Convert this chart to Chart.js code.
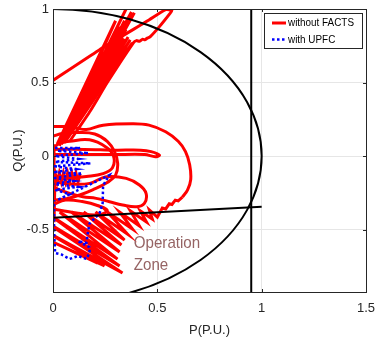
<!DOCTYPE html>
<html>
<head>
<meta charset="utf-8">
<script src="https://cdn.jsdelivr.net/npm/chart.js@4.4.1/dist/chart.umd.min.js"></script>
<style>
  html, body { margin: 0; padding: 0; background: #fff; }
  #wrap { width: 375px; height: 345px; }
</style>
</head>
<body>
<div id="wrap"><canvas id="pqChart" width="375" height="345"></canvas></div>
<script>
// ---- data (P, Q in p.u.) ----
const xTicks = [0, 0.5, 1, 1.5];
const yTicks = [-0.5, 0, 0.5, 1];

// fan of swings going up-right (without FACTS)
const fanBase = [[0.02,0.08],[0.03,0.07],[0.035,0.09],[0.04,0.08],[0.045,0.09],[0.05,0.09],[0.045,0.10],[0.05,0.10],[0.055,0.09],[0.06,0.10],[0.06,0.10],[0.04,0.08],[0.05,0.09]];
const fanTip  = [[0.30,0.92],[0.35,1.0],[0.376,0.98],[0.39,0.975],[0.343,0.92],[0.32,0.88],[0.35,0.86],[0.33,0.82],[0.36,0.81],[0.37,0.79],[0.38,0.77],[0.31,0.85],[0.34,0.80]];

// long thin loop from the Q axis to the top
const longLoop = [[-0.01,0.505],[0.22,0.72],[0.46,0.925],[0.54,0.995],[0.57,0.99],[0.558,0.965],[0.51,0.88],[0.465,0.81],
  [0.45,0.80],[0.44,0.79],[0.43,0.795],[0.415,0.78],[0.40,0.785],[0.385,0.77],[0.26,0.5],[0.18,0.31],[0.08,0.1]];

// big loop reaching P = 0.66
const bigLoop = [[-0.01,0.2],[0.05,0.2],[0.11,0.19],[0.16,0.18],[0.24,0.21],[0.38,0.22],[0.46,0.21],[0.54,0.165],
  [0.60,0.10],[0.635,0.03],[0.655,-0.06],[0.66,-0.16],[0.645,-0.23],[0.62,-0.28]];

// thin loop along Q = 0
const thinLoop = [[-0.01,0.045],[0.15,0.045],[0.30,0.04],[0.42,0.04],[0.47,0.03],[0.51,0.005],[0.49,-0.005],
  [0.44,0.01],[0.30,0.01],[0.10,0.01],[-0.01,0.01]];

// loops between Q = 0.15 and -0.35
const loopLeft = [[-0.01,0.13],[0.05,0.155],[0.12,0.16],[0.20,0.15],[0.26,0.10],[0.295,0.03],[0.31,-0.05],[0.30,-0.13],
  [0.26,-0.18],[0.19,-0.23],[0.128,-0.265],[0.064,-0.29],[0.0,-0.30]];
const loopSmall = [[-0.01,0.04],[0.03,0.085],[0.08,0.10],[0.175,0.11],[0.255,0.06],[0.29,0.0],[0.285,-0.08],[0.24,-0.12],
  [0.16,-0.14],[0.08,-0.15],[0.0,-0.16]];
const loopRight = [[0.0,-0.17],[0.08,-0.19],[0.176,-0.186],[0.255,-0.141],[0.351,-0.152],[0.414,-0.197],[0.446,-0.254],
  [0.438,-0.322],[0.40,-0.345],[0.334,-0.333],[0.271,-0.311],[0.207,-0.288],[0.143,-0.277],[0.08,-0.254],[0.032,-0.231],[0.0,-0.21]];
const loopLow = [[0.0,-0.33],[0.06,-0.30],[0.14,-0.31],[0.22,-0.34],[0.26,-0.37],[0.22,-0.40],[0.12,-0.39],[0.04,-0.37],[0.0,-0.36]];

// saw-tooth / stripes under the boundary line
const stripeTop = [[0.62,-0.28],[0.586,-0.30],[0.557,-0.325],[0.524,-0.354],[0.462,-0.367],[0.419,-0.374],[0.371,-0.374],
  [0.319,-0.381],[0.261,-0.381],[0.204,-0.381],[0.147,-0.381],[0.089,-0.381],[0.032,-0.381],[-0.016,-0.401],
  [-0.064,-0.422],[-0.064,-0.49],[-0.064,-0.544]];
const stripeBottom = [[0.60,-0.305],[0.57,-0.33],[0.54,-0.36],[0.50,-0.415],[0.476,-0.429],[0.448,-0.449],[0.414,-0.476],
  [0.381,-0.497],[0.357,-0.531],[0.343,-0.571],[0.328,-0.605],[0.319,-0.653],[0.309,-0.701],[0.319,-0.748],
  [0.333,-0.796],[0.247,-0.748],[0.214,-0.728]];

// short swings at the left edge
const leftSwings = [[0.005,0.08],[0.005,-0.45],[0.01,-0.115],[0.02,-0.175],[0.03,-0.115],[0.04,-0.175],[0.05,-0.115],
  [0.06,-0.175],[0.07,-0.115],[0.08,-0.175],[0.09,-0.115],[0.10,-0.175],[0.11,-0.115],[0.12,-0.175],[0.13,-0.12]];

// with UPFC
const upfcPath = [[0.01,0.055],[0.13,0.055],[0.02,0.035],[0.17,0.02],[0.01,0.0],[0.12,-0.02],[0.01,-0.04],[0.18,-0.05],
  [0.01,-0.07],[0.11,-0.09],[0.0,-0.11],[0.14,-0.12],[0.01,-0.15],[0.10,-0.17],[0.0,-0.19],[0.12,-0.21],[0.01,-0.23],
  [0.08,-0.26],[0.02,-0.30],[0.27,-0.13],[0.24,-0.20],[0.238,-0.32],[0.223,-0.39],[0.175,-0.46],[0.166,-0.53],
  [0.16,-0.59],[0.12,-0.58],[0.175,-0.62],[0.175,-0.66],[0.16,-0.70],[0.12,-0.68],[0.08,-0.70],[0.04,-0.67],
  [0.01,-0.66],[0.005,-0.50],[0.005,-0.30]];

// operating limits
const capabilityRadius = 1;
const pLimit = [[0.95,-1],[0.95,1.1]];
const boundaryLine = [[0,-0.42],[1,-0.345]];
const zoneText = ['Operation', 'Zone'];
const zoneAnchor = [0.387, -0.626];

const seriesNames = ['without FACTS', 'with UPFC'];
const RED = 'rgb(255,0,0)', BLUE = 'rgb(0,0,255)', INK = '#262626';

function toXY(arr){ return arr.map(p => ({x: p[0], y: p[1]})); }
function interleave(a, b){ const out = []; for (let i = 0; i < a.length; i++){ out.push(a[i], b[i]); } return out; }

function redSet(points, tension){
  return { label: seriesNames[0], data: toXY(points), showLine: true, borderColor: RED, backgroundColor: RED,
           borderWidth: 3, pointRadius: 0, tension: tension, order: 1 };
}

const datasets = [
  redSet(interleave(fanBase, fanTip), 0),
  redSet(longLoop, 0.2),
  redSet(bigLoop, 0.4),
  redSet(thinLoop, 0.3),
  redSet(loopLeft, 0.4),
  redSet(loopSmall, 0.4),
  redSet(loopRight, 0.4),
  redSet(loopLow, 0.4),
  redSet(interleave(stripeTop, stripeBottom), 0),
  redSet(leftSwings, 0),
  { label: seriesNames[1], data: toXY(upfcPath), showLine: true, borderColor: BLUE, backgroundColor: BLUE,
    borderWidth: 2.5, borderDash: [2.5, 2.5], pointRadius: 0, tension: 0, order: -1 },
  { label: 'limit', data: toXY(pLimit), showLine: true, borderColor: '#000', borderWidth: 2, pointRadius: 0, order: -2 },
  { label: 'limit', data: toXY(boundaryLine), showLine: true, borderColor: '#000', borderWidth: 2, pointRadius: 0, order: -2 }
];

const framePlugin = {
  id: 'pqFrame',
  afterDatasetsDraw(chart){
    const ctx = chart.ctx, a = chart.chartArea, xs = chart.scales.x, ys = chart.scales.y;
    ctx.save();
    ctx.beginPath(); ctx.rect(a.left, a.top, a.right - a.left, a.bottom - a.top); ctx.clip();
    // capability circle
    const cx = xs.getPixelForValue(0), cy = ys.getPixelForValue(0);
    const rx = xs.getPixelForValue(capabilityRadius) - cx, ry = cy - ys.getPixelForValue(capabilityRadius);
    ctx.beginPath(); ctx.ellipse(cx, cy, rx, ry, 0, -Math.PI / 2, Math.PI / 2);
    ctx.strokeStyle = '#000'; ctx.lineWidth = 2; ctx.stroke();
    // zone label
    ctx.fillStyle = '#966464'; ctx.font = '17px "Liberation Sans", Arial, sans-serif'; ctx.textBaseline = 'alphabetic';
    const tx = xs.getPixelForValue(zoneAnchor[0]), ty = ys.getPixelForValue(zoneAnchor[1]);
    const ty2 = ys.getPixelForValue(zoneAnchor[1] - 0.15);
    ctx.save(); ctx.translate(tx, ty); ctx.scale(0.89, 1); ctx.fillText(zoneText[0], 0, 0); ctx.restore();
    ctx.save(); ctx.translate(tx, ty2); ctx.scale(0.89, 1); ctx.fillText(zoneText[1], 0, 0); ctx.restore();
    ctx.restore();

    // box and inward ticks
    ctx.save();
    ctx.strokeStyle = INK; ctx.lineWidth = 1;
    ctx.strokeRect(Math.round(a.left) + 0.5, Math.round(a.top) + 0.5, Math.round(a.right - a.left), Math.round(a.bottom - a.top));
    ctx.beginPath();
    xTicks.forEach(v => { const px = Math.round(xs.getPixelForValue(v)) + 0.5;
      ctx.moveTo(px, a.bottom); ctx.lineTo(px, a.bottom - 3); ctx.moveTo(px, a.top); ctx.lineTo(px, a.top + 3); });
    yTicks.forEach(v => { const py = Math.round(ys.getPixelForValue(v)) + 0.5;
      ctx.moveTo(a.left, py); ctx.lineTo(a.left + 3, py); ctx.moveTo(a.right, py); ctx.lineTo(a.right - 3, py); });
    ctx.stroke();

    // legend
    const lx = 264, ly = 13, lw = 98, lh = 35;
    ctx.fillStyle = '#fff'; ctx.fillRect(lx, ly, lw, lh);
    ctx.strokeStyle = INK; ctx.strokeRect(lx + 0.5, ly + 0.5, lw, lh);
    ctx.font = '11px "Liberation Sans", Arial, sans-serif'; ctx.fillStyle = '#000'; ctx.textBaseline = 'middle';
    ctx.lineWidth = 3; ctx.strokeStyle = RED;
    ctx.beginPath(); ctx.moveTo(272, 23); ctx.lineTo(286, 23); ctx.stroke();
    ctx.save(); ctx.translate(288, 23); ctx.scale(0.9, 1); ctx.fillText(seriesNames[0], 0, 0); ctx.restore();
    ctx.lineWidth = 2.5; ctx.strokeStyle = BLUE; ctx.setLineDash([2.5, 2.5]);
    ctx.beginPath(); ctx.moveTo(272, 39.5); ctx.lineTo(287, 39.5); ctx.stroke();
    ctx.setLineDash([]);
    ctx.save(); ctx.translate(288, 39.5); ctx.scale(0.9, 1); ctx.fillText(seriesNames[1], 0, 0); ctx.restore();
    ctx.restore();
  }
};

const tickFont = { family: '"Liberation Sans", Arial, sans-serif', size: 13 };
const fmt = v => String(+v);

new Chart(document.getElementById('pqChart'), {
  type: 'scatter',
  data: { datasets: datasets },
  options: {
    responsive: false,
    animation: false,
    events: [],
    layout: { padding: { top: 9, right: 9, left: 0, bottom: 0 } },
    plugins: { legend: { display: false }, tooltip: { enabled: false } },
    scales: {
      x: {
        type: 'linear', min: 0, max: 1.5,
        afterBuildTicks: s => { s.ticks = xTicks.map(v => ({ value: v })); },
        afterFit: s => { s.height = 53; s.paddingLeft = 0; s.paddingRight = 0; },
        grid: { color: '#e6e6e6', drawTicks: false },
        border: { display: false },
        ticks: { color: INK, font: tickFont, padding: 9, maxRotation: 0, callback: fmt },
        title: { display: true, text: 'P(P.U.)', color: INK, font: tickFont, padding: { top: 0, bottom: 7 } }
      },
      y: {
        type: 'linear', min: -0.925, max: 1,
        afterBuildTicks: s => { s.ticks = yTicks.map(v => ({ value: v })); },
        afterFit: s => { s.width = 53; s.paddingTop = 0; s.paddingBottom = 0; },
        grid: { color: '#e6e6e6', drawTicks: false },
        border: { display: false },
        ticks: { color: INK, font: tickFont, padding: 4, callback: fmt },
        title: { display: true, text: 'Q(P.U.)', color: INK, font: tickFont, padding: { top: 11, bottom: 0 } }
      }
    }
  },
  plugins: [framePlugin]
});
</script>
</body>
</html>
